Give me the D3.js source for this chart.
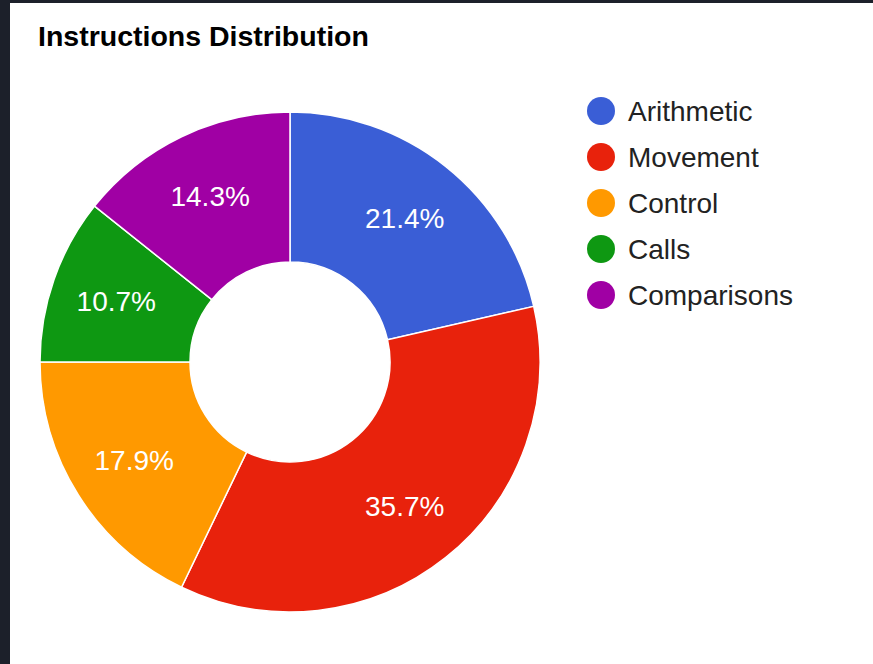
<!DOCTYPE html>
<html>
<head>
<meta charset="utf-8">
<script src="https://cdn.jsdelivr.net/npm/d3@7"></script>
<style>
  html, body { margin: 0; padding: 0; background: #1c202a; }
  svg { display: block; }
  text { font-family: "Liberation Sans", Arial, sans-serif; }
</style>
</head>
<body>
<svg id="chart"></svg>
<script>
var categories = ["Arithmetic", "Movement", "Control", "Calls", "Comparisons"];
var counts = [6, 10, 5, 3, 4];
var colors = ["#3a5ed6", "#e8220c", "#ff9900", "#0e9812", "#a000a4"];

var width = 873, height = 664;

var svg = d3.select("#chart")
            .attr("width", width)
            .attr("height", height);

// white card inside the dark frame
svg.append("rect")
   .attr("x", 10)
   .attr("y", 3)
   .attr("width", width - 10)
   .attr("height", height - 3)
   .attr("fill", "#ffffff");

svg.append("text")
   .attr("x", 38)
   .attr("y", 46)
   .attr("font-size", 28.5)
   .attr("font-weight", "bold")
   .attr("fill", "#000")
   .text("Instructions Distribution");

var data = categories.map(function(c, i) { return {name: c, value: counts[i], color: colors[i]}; });
var total = d3.sum(counts);

var outer = 250, inner = 100;
var pie = d3.pie().sort(null).value(function(d) { return d.value; });
var arc = d3.arc().innerRadius(inner).outerRadius(outer);
var labelArc = d3.arc().innerRadius(184).outerRadius(184);

var g = svg.append("g")
           .attr("transform", "translate(290,362)");

var slices = g.selectAll(".slice")
              .data(pie(data))
              .enter().append("g")
              .attr("class", "slice");

slices.append("path")
      .attr("d", arc)
      .attr("fill", function(d) { return d.data.color; })
      .attr("stroke", "#ffffff")
      .attr("stroke-width", 1.5);

slices.append("text")
      .attr("transform", function(d) { return "translate(" + labelArc.centroid(d) + ")"; })
      .attr("text-anchor", "middle")
      .attr("dy", "0.36em")
      .attr("font-size", 28)
      .attr("fill", "#ffffff")
      .text(function(d) { return d3.format(".1%")(d.data.value / total); });

// legend
var legend = svg.selectAll(".legend")
                .data(data)
                .enter().append("g")
                .attr("class", "legend")
                .attr("transform", function(d, i) { return "translate(601," + (111 + i * 46) + ")"; });

legend.append("circle")
      .attr("r", 14)
      .attr("fill", function(d) { return d.color; });

legend.append("text")
      .attr("x", 27)
      .attr("dy", "0.36em")
      .attr("font-size", 28)
      .attr("fill", "#222")
      .text(function(d) { return d.name; });
</script>
</body>
</html>
